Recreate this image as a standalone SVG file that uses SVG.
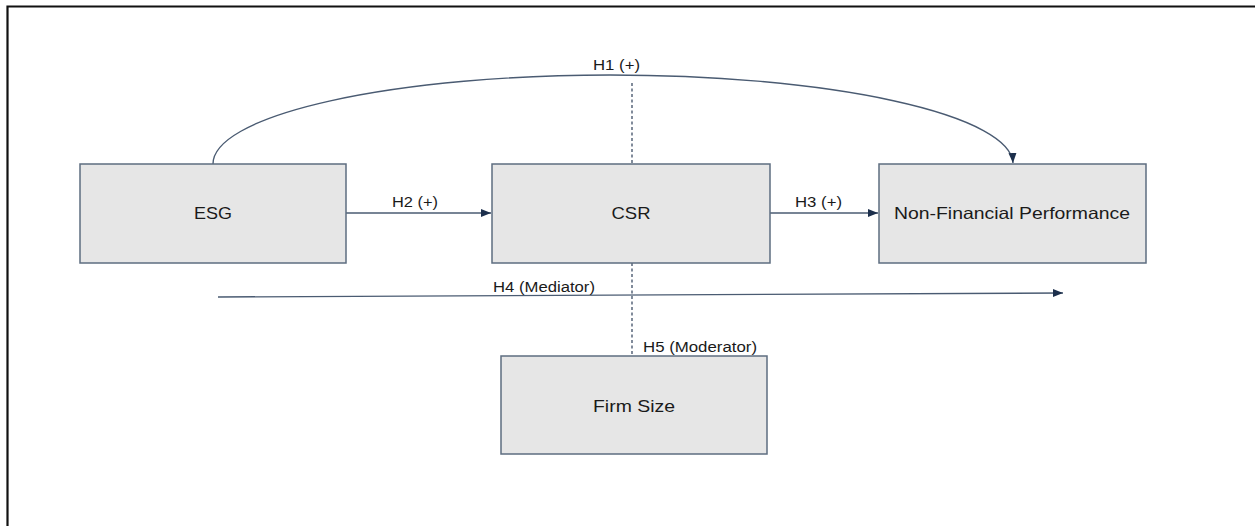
<svg xmlns="http://www.w3.org/2000/svg" width="1255" height="526" viewBox="0 0 1255 526">
<style>
.box{fill:#e6e6e6;stroke:#5d6d80;stroke-width:1.5}
.lbl{font-family:"Liberation Sans",Arial,sans-serif;font-size:16.5px;fill:#1a1a1a;text-anchor:middle}
.sm{font-family:"Liberation Sans",Arial,sans-serif;font-size:14px;fill:#1a1a1a;text-anchor:middle}
.conn{fill:none;stroke:#4a5b72;stroke-width:1.4}
.dash{fill:none;stroke:#3e4e66;stroke-width:1.3;stroke-dasharray:3,2.5}
.frame{fill:none;stroke:#111;stroke-width:2.2}
</style>
<defs>
<marker id="arr" markerUnits="userSpaceOnUse" markerWidth="11" markerHeight="9" refX="10" refY="4" orient="auto">
<path d="M0,0 L10,4 L0,8 z" fill="#1c2f4c"/>
</marker>
</defs>
<rect width="1255" height="526" fill="#fff"/>
<path class="frame" d="M7.5,526 L7.5,6.5 L1255,6.5"/>
<g id="connectors">
<path class="conn" d="M213,164 A397,89 0 0 1 610,75 A403,89 0 0 1 1013,163" marker-end="url(#arr)"/>
<line class="conn" x1="346" y1="213" x2="491" y2="213" marker-end="url(#arr)"/>
<line class="conn" x1="770" y1="213" x2="878" y2="213" marker-end="url(#arr)"/>
<line class="conn" x1="218" y1="297" x2="1063" y2="293" marker-end="url(#arr)"/>
<line class="dash" x1="632" y1="83" x2="632" y2="164"/>
<line class="dash" x1="632" y1="263" x2="632" y2="356"/>
<text class="sm" x="616.5" y="70" textLength="47" lengthAdjust="spacingAndGlyphs">H1 (+)</text>
<text class="sm" x="415" y="207" textLength="46" lengthAdjust="spacingAndGlyphs">H2 (+)</text>
<text class="sm" x="818.5" y="207" textLength="47" lengthAdjust="spacingAndGlyphs">H3 (+)</text>
<text class="sm" x="544" y="292" textLength="102" lengthAdjust="spacingAndGlyphs">H4 (Mediator)</text>
<text class="sm" x="700" y="352" textLength="114" lengthAdjust="spacingAndGlyphs">H5 (Moderator)</text>
</g>
<g id="esg">
<rect class="box" x="80" y="164" width="266" height="99"/>
<text class="lbl" x="213" y="219" textLength="38" lengthAdjust="spacingAndGlyphs">ESG</text>
</g>
<g id="csr">
<rect class="box" x="492" y="164" width="278" height="99"/>
<text class="lbl" x="631" y="219" textLength="39" lengthAdjust="spacingAndGlyphs">CSR</text>
</g>
<g id="nfp">
<rect class="box" x="879" y="164" width="267" height="99"/>
<text class="lbl" x="1012" y="219" textLength="236" lengthAdjust="spacingAndGlyphs">Non-Financial Performance</text>
</g>
<g id="firmsize">
<rect class="box" x="501" y="356" width="266" height="98"/>
<text class="lbl" x="634" y="412" textLength="82" lengthAdjust="spacingAndGlyphs">Firm Size</text>
</g>
</svg>
